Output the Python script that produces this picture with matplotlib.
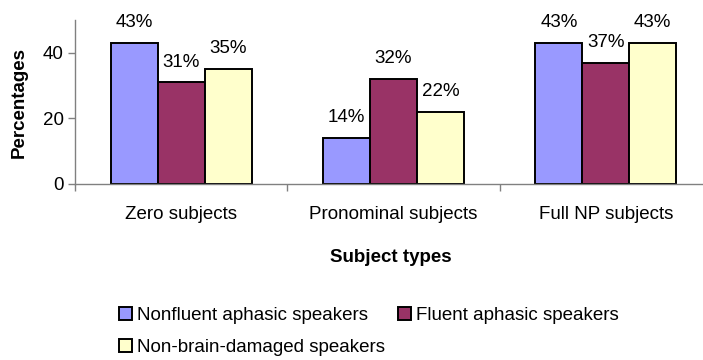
import matplotlib
matplotlib.use("Agg")
import matplotlib.pyplot as plt
import numpy as np
from matplotlib.patches import Patch

plt.rcParams['font.family'] = ['Liberation Sans', 'DejaVu Sans']

categories = ["Zero subjects", "Pronominal subjects", "Full NP subjects"]
series_names = ["Nonfluent aphasic speakers", "Fluent aphasic speakers",
                "Non-brain-damaged speakers"]
nonfluent = [43, 14, 43]
fluent = [31, 32, 37]
non_brain_damaged = [35, 22, 43]
series_values = [nonfluent, fluent, non_brain_damaged]
colors = ["#9999FF", "#993366", "#FFFFCC"]
y_ticks = [0, 20, 40]

FS = 13.5

fig = plt.figure(figsize=(7.03, 3.60), dpi=100)
ax = fig.add_axes([75 / 703, 1 - 184 / 360, 637 / 703, 164 / 360])

centers = np.arange(len(categories)) + 0.5
width = 0.221
offsets = (np.arange(len(series_values)) - 1) * width

for vals, off, col in zip(series_values, offsets, colors):
    bars = ax.bar(centers + off, vals, width=width, color=col,
                  edgecolor="black", linewidth=1.4, clip_on=False)
    for b, v in zip(bars, vals):
        ax.annotate(f"{v}%", (b.get_x() + b.get_width() / 2, v),
                    xytext=(0, 8.5), textcoords="offset points",
                    ha="center", va="bottom", fontsize=FS)

ax.set_xlim(0, len(categories))
ax.set_ylim(0, 50)
ax.set_yticks(y_ticks)
ax.set_xticks(centers)
ax.set_xticklabels(categories, fontsize=FS)
ax.set_xticks(np.arange(len(categories) + 1), minor=True)
ax.tick_params(axis="x", which="major", length=0, pad=15.5)
ax.tick_params(axis="x", which="minor", length=5, width=1, color="#808080")
ax.tick_params(axis="y", length=5, width=1, color="#808080", labelsize=FS, pad=3)

for side in ("top", "right"):
    ax.spines[side].set_visible(False)
for side in ("left", "bottom"):
    ax.spines[side].set_color("#808080")
    ax.spines[side].set_linewidth(1)

ax.set_ylabel("Percentages", fontsize=FS, fontweight="bold")
ax.yaxis.set_label_coords(-47 / 637, 0.5)
fig.text(391 / 703, 1 - 258 / 360, "Subject types", fontsize=FS,
         fontweight="bold", ha="center", va="center")

handles = [Patch(facecolor=c, edgecolor="black", linewidth=1.4) for c in colors]
order = [0, 2, 1]
leg = fig.legend([handles[i] for i in order], [series_names[i] for i in order],
                 ncol=2, loc="upper left", bbox_to_anchor=(119 / 703, 1 - 307 / 360),
                 frameon=False, fontsize=FS, handlelength=0.7, handleheight=0.7,
                 handletextpad=0.25, columnspacing=0.7, labelspacing=0.78,
                 borderaxespad=0, borderpad=0)

fig.savefig("out.png", dpi=100)
